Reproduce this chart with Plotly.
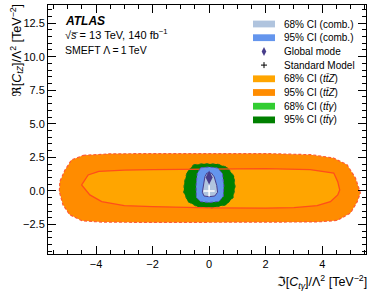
import plotly.graph_objects as go

# ---------------- data (contour boundaries in coefficient space) ----------------
ttz95_x = [-4.45, -3.5, -2.0, 0.0, 2.0, 3.6, 4.4, 4.88, 5.18, 5.35, 5.24, 5.0, 4.53, 3.8, 2.0, 0.0, -2.0, -3.8, -4.5, -4.93, -5.17, -5.3, -5.28, -5.1, -4.87]
ttz95_y = [2.65, 2.76, 2.78, 2.8, 2.78, 2.7, 2.45, 1.95, 0.95, -0.15, -0.8, -1.65, -2.2, -2.31, -2.34, -2.36, -2.35, -2.32, -2.22, -1.78, -1.04, -0.05, 0.7, 1.56, 2.3]

ttz68_x = [-3.9, -3.0, -2.0, 0.0, 2.0, 3.58, 4.41, 4.55, 4.62, 4.55, 4.29, 3.82, 3.0, 2.0, 0.0, -2.0, -3.0, -3.8, -4.22, -4.51, -4.28]
ttz68_y = [1.45, 1.55, 1.58, 1.63, 1.66, 1.58, 1.33, 0.69, 0.07, -0.3, -0.8, -1.09, -1.25, -1.28, -1.26, -1.17, -1.1, -0.8, -0.3, 0.45, 1.19]

tta95_x = [-0.55, -0.2, 0.3, 0.65, 0.88, 0.92, 0.85, 0.6, 0.1, -0.4, -0.75, -0.9, -0.88, -0.78]
tta95_y = [1.95, 2.03, 2.0, 1.75, 1.1, 0.3, -0.5, -1.05, -1.26, -1.2, -0.8, -0.1, 0.6, 1.4]

comb95_x = [-0.3, 0.0, 0.3, 0.47, 0.52, 0.5, 0.35, 0.0, -0.3, -0.45, -0.46, -0.42]
comb95_y = [1.72, 1.78, 1.7, 1.3, 0.4, -0.4, -0.78, -0.86, -0.8, -0.5, 0.4, 1.3]

comb68_x = [-0.08, 0.08, 0.18, 0.27, 0.3, 0.2, 0.0, -0.18, -0.24, -0.2, -0.15]
comb68_y = [1.33, 1.33, 1.05, 0.4, -0.1, -0.38, -0.43, -0.38, -0.1, 0.5, 1.05]

mode_x = [0.0]
mode_y = [1.0]
sm_x = [0.0]
sm_y = [0.0]

xticks = [-4, -2, 0, 2, 4]
yticks = [-2.5, 0.0, 2.5, 5.0, 7.5, 10.0, 12.5]

legend_labels = ["68% CI (comb.)", "95% CI (comb.)", "Global mode", "Standard Model",
                 "68% CI (<i>tt̄Z</i>)", "95% CI (<i>tt̄Z</i>)",
                 "68% CI (<i>tt̄γ</i>)", "95% CI (<i>tt̄γ</i>)"]
legend_kinds = ["patch", "patch", "diamond", "plus", "patch", "patch", "patch", "patch"]
legend_colors = ["#B0C4DE", "#6495ED", "#483D8B", "black", "#FFA500", "#FF8C00", "#32CD32", "#008000"]

FONT = "Liberation Sans, Arial, Helvetica, DejaVu Sans, sans-serif"

# ---------------- figure ----------------
W, H = 374, 293
ML, MR, MT, MB = 48, 8, 5, 39
PW, PH = W - ML - MR, H - MT - MB


def px(xp):
    return (xp - ML) / PW


def py(yp):
    return 1 - (yp - MT) / PH


fig = go.Figure()


def close(a):
    return a + a[:1]


fig.add_trace(go.Scatter(x=close(ttz95_x), y=close(ttz95_y), fill="toself", fillcolor="#FF8C00",
                         mode="lines", line=dict(color="#FF5A36", width=1.2, dash="3px,2px"),
                         hoverinfo="skip", showlegend=False))
fig.add_trace(go.Scatter(x=close(ttz68_x), y=close(ttz68_y), fill="toself", fillcolor="#FFA500",
                         mode="lines", line=dict(width=0), hoverinfo="skip", showlegend=False))
fig.add_trace(go.Scatter(x=close(tta95_x), y=close(tta95_y), fill="toself", fillcolor="#008000",
                         mode="lines", line=dict(color="#1E7A1E", width=1, dash="dot"),
                         hoverinfo="skip", showlegend=False))
fig.add_trace(go.Scatter(x=close(ttz68_x), y=close(ttz68_y), mode="lines",
                         line=dict(color="#FF4E1A", width=1.3), hoverinfo="skip", showlegend=False))
fig.add_trace(go.Scatter(x=close(comb95_x), y=close(comb95_y), fill="toself", fillcolor="#6495ED",
                         mode="lines", line=dict(color="#5A4FC0", width=1, dash="3px,2px"),
                         hoverinfo="skip", showlegend=False))
fig.add_trace(go.Scatter(x=close(comb68_x), y=close(comb68_y), fill="toself", fillcolor="#B0C4DE",
                         mode="lines", line=dict(color="#483D8B", width=1),
                         hoverinfo="skip", showlegend=False))
fig.add_trace(go.Scatter(x=mode_x, y=mode_y, mode="markers",
                         marker=dict(symbol="diamond-tall", size=10, color="#483D8B", line=dict(width=0)),
                         hoverinfo="skip", showlegend=False))
fig.add_trace(go.Scatter(x=sm_x, y=sm_y, mode="markers",
                         marker=dict(symbol="cross-thin", size=8, color="white", line=dict(color="white", width=1.5)),
                         hoverinfo="skip", showlegend=False))

# ---------------- manual legend ----------------
shapes = []
annotations = []
row0, drow = 24.0, 13.7
for i, (lab, kind, col) in enumerate(zip(legend_labels, legend_kinds, legend_colors)):
    yc = row0 + i * drow
    if kind == "patch":
        shapes.append(dict(type="rect", xref="paper", yref="paper",
                           x0=px(253), x1=px(275), y0=py(yc + 3.4), y1=py(yc - 3.4),
                           fillcolor=col, line=dict(width=0)))
    elif kind == "diamond":
        cx = 264
        path = "M {:.4f},{:.4f} L {:.4f},{:.4f} L {:.4f},{:.4f} L {:.4f},{:.4f} Z".format(
            px(cx), py(yc - 4.5), px(cx + 2.3), py(yc), px(cx), py(yc + 4.5), px(cx - 2.3), py(yc))
        shapes.append(dict(type="path", xref="paper", yref="paper", path=path,
                           fillcolor=col, line=dict(width=0)))
    else:
        cx = 264
        shapes.append(dict(type="line", xref="paper", yref="paper", x0=px(cx - 3), x1=px(cx + 3),
                           y0=py(yc), y1=py(yc), line=dict(color=col, width=1)))
        shapes.append(dict(type="line", xref="paper", yref="paper", x0=px(cx), x1=px(cx),
                           y0=py(yc - 3), y1=py(yc + 3), line=dict(color=col, width=1)))
    annotations.append(dict(xref="paper", yref="paper", x=px(282), y=py(yc), text=lab,
                            xanchor="left", yanchor="middle", showarrow=False,
                            font=dict(family=FONT, size=10, color="black")))

# ATLAS labels
annotations.append(dict(xref="paper", yref="paper", x=px(63), y=py(20.5), text="<b><i>ATLAS</i></b>",
                        xanchor="left", yanchor="middle", showarrow=False,
                        font=dict(family=FONT, size=12, color="black")))
annotations.append(dict(xref="paper", yref="paper", x=px(63), y=py(34), text="√<i>s̅</i> = 13 TeV, 140 fb<sup>−1</sup>",
                        xanchor="left", yanchor="middle", showarrow=False,
                        font=dict(family=FONT, size=11, color="black")))
annotations.append(dict(xref="paper", yref="paper", x=px(63), y=py(50), text="SMEFT Λ\u2009=\u20091\u2009TeV",
                        xanchor="left", yanchor="middle", showarrow=False,
                        font=dict(family=FONT, size=10.5, color="black")))

# axis titles
annotations.append(dict(xref="paper", yref="paper", x=px(369), y=py(282), xanchor="right", yanchor="middle",
                        text="ℑ[<i>C</i><sub><i>tγ</i></sub>]/Λ<sup>2</sup> [TeV<sup>−2</sup>]",
                        showarrow=False, font=dict(family=FONT, size=12.5, color="black")))
annotations.append(dict(xref="paper", yref="paper", x=px(16), y=py(2), xanchor="center", yanchor="top",
                        textangle=-90,
                        text="ℜ[<i>C</i><sub><i>tZ</i></sub>]/Λ<sup>2</sup> [TeV<sup>−2</sup>]",
                        showarrow=False, font=dict(family=FONT, size=12.5, color="black")))

axis_common = dict(showgrid=False, zeroline=False, showline=True, linecolor="black", linewidth=1,
                   mirror="allticks", ticks="inside", ticklen=8, tickwidth=1, tickcolor="black",
                   tickfont=dict(family=FONT, size=11, color="black"))

fig.update_layout(
    width=W, height=H,
    margin=dict(l=ML, r=MR, t=MT, b=MB),
    paper_bgcolor="white", plot_bgcolor="white",
    showlegend=False,
    shapes=shapes, annotations=annotations,
    xaxis=dict(range=[-5.7, 5.55], tickvals=xticks, ticktext=[("−" if v < 0 else "") + str(abs(v)) for v in xticks],
               minor=dict(dtick=0.5, tick0=0, ticks="inside", ticklen=4, tickcolor="black", tickwidth=1),
               **axis_common),
    yaxis=dict(range=[-4.7, 13.85], tickvals=yticks,
               ticktext=[("−" if v < 0 else "") + "{:.1f}".format(abs(v)) for v in yticks],
               minor=dict(dtick=0.5, tick0=0, ticks="inside", ticklen=4, tickcolor="black", tickwidth=1),
               **axis_common),
)

fig.write_html("out.html", config={"displayModeBar": False},
               post_script="document.body.style.margin='0';document.body.style.overflow='hidden';")
